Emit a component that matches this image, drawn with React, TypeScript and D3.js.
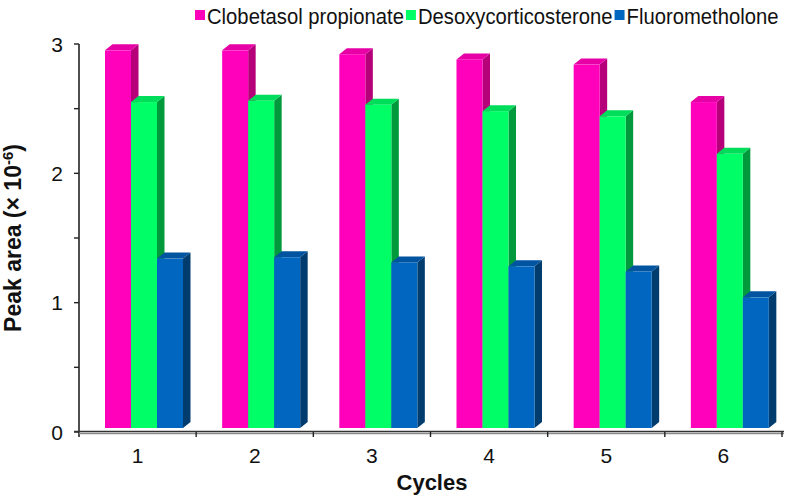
import { useEffect, useRef } from "react";
import * as d3 from "d3";

// Chart data
const CYCLES = ["1", "2", "3", "4", "5", "6"];
const SERIES = ["Clobetasol propionate", "Desoxycorticosterone", "Fluorometholone"];
const CLOBETASOL = [2.92, 2.92, 2.89, 2.85, 2.81, 2.52];
const DESOXY = [2.52, 2.53, 2.5, 2.45, 2.41, 2.12];
const FLUORO = [1.31, 1.32, 1.28, 1.25, 1.21, 1.01];
const Y_TICKS = [0, 1, 2, 3];
const Y_MINOR = [0.5, 1.5, 2.5];

const VALUES = [CLOBETASOL, DESOXY, FLUORO];

const COLORS = {
  front: ["#ff00bb", "#00ff66", "#0066bf"],
  top: ["#e600a6", "#00dd5a", "#0054a0"],
  side: ["#b5007a", "#009a3c", "#003c6e"],
  axis: "#222222",
  text: "#111111",
};

const W = 791;
const H = 499;
const FONT = "'Liberation Sans', Arial, sans-serif";
const DX = 7.5;
const DY = 6;
const LIFT = 4;

export default function App() {
  const svgRef = useRef<SVGSVGElement>(null);

  useEffect(() => {
    document.body.style.margin = "0";
    if (!svgRef.current) return;
    const svg = d3.select(svgRef.current);
    svg.selectAll("*").remove();

    const x = d3.scaleBand().domain(CYCLES).range([79, 782]).padding(0);
    const xInner = d3.scaleBand().domain(SERIES).range([26, 104]).padding(0);
    const y = d3.scaleLinear().domain([0, 3]).range([432, 44]);

    // ============ BARS ============
    const bars = svg.append("g").attr("class", "bars");
    CYCLES.forEach((c, ci) => {
      SERIES.forEach((s, si) => {
        const v = VALUES[si][ci];
        const x0 = (x(c) ?? 0) + (xInner(s) ?? 0);
        const w = xInner.bandwidth();
        const top = y(v) - LIFT;
        const bottom = y(0) - LIFT;
        const g = bars.append("g");
        g.append("polygon")
          .attr("points", [
            [x0 + w, top], [x0 + w + DX, top - DY],
            [x0 + w + DX, bottom - DY], [x0 + w, bottom],
          ].map((p) => p.join(",")).join(" "))
          .attr("fill", COLORS.side[si]);
        g.append("polygon")
          .attr("points", [
            [x0, top], [x0 + DX, top - DY],
            [x0 + w + DX, top - DY], [x0 + w, top],
          ].map((p) => p.join(",")).join(" "))
          .attr("fill", COLORS.top[si]);
        g.append("rect")
          .attr("x", x0)
          .attr("y", top)
          .attr("width", w)
          .attr("height", bottom - top)
          .attr("fill", COLORS.front[si]);
      });
    });

    // ============ AXES ============
    const axes = svg.append("g").attr("class", "axes");

    // Y axis
    axes.append("line")
      .attr("x1", 79).attr("x2", 79)
      .attr("y1", y(3)).attr("y2", y(0) + 5)
      .attr("stroke", COLORS.axis).attr("stroke-width", 1.6);
    axes.selectAll("line.ytick")
      .data([...Y_TICKS, ...Y_MINOR])
      .join("line")
      .attr("class", "ytick")
      .attr("x1", 74).attr("x2", 79)
      .attr("y1", (d) => y(d)).attr("y2", (d) => y(d))
      .attr("stroke", COLORS.axis).attr("stroke-width", 1.4);
    axes.selectAll("text.ylab")
      .data(Y_TICKS)
      .join("text")
      .attr("class", "ylab")
      .attr("x", 63)
      .attr("y", (d) => y(d))
      .attr("dy", "0.36em")
      .attr("text-anchor", "end")
      .attr("font-family", FONT)
      .attr("font-size", 21)
      .attr("fill", COLORS.text)
      .text((d) => String(d));

    // X axis
    axes.append("line")
      .attr("x1", 74).attr("x2", 784)
      .attr("y1", 431.5).attr("y2", 431.5)
      .attr("stroke", "#333").attr("stroke-width", 1.6);
    axes.append("line")
      .attr("x1", 79).attr("x2", 784)
      .attr("y1", 433.5).attr("y2", 433.5)
      .attr("stroke", "#8a8a8a").attr("stroke-width", 1.4);
    axes.selectAll("line.xtick")
      .data(CYCLES)
      .join("line")
      .attr("class", "xtick")
      .attr("x1", (d) => (x(d) ?? 0) + x.bandwidth())
      .attr("x2", (d) => (x(d) ?? 0) + x.bandwidth())
      .attr("y1", 432).attr("y2", 437)
      .attr("stroke", COLORS.axis).attr("stroke-width", 1.4);
    axes.selectAll("text.xlab")
      .data(CYCLES)
      .join("text")
      .attr("class", "xlab")
      .attr("x", (d) => (x(d) ?? 0) + x.bandwidth() / 2)
      .attr("y", 463)
      .attr("text-anchor", "middle")
      .attr("font-family", FONT)
      .attr("font-size", 21)
      .attr("fill", COLORS.text)
      .text((d) => d);

    // Axis titles
    axes.append("text")
      .attr("x", 432)
      .attr("y", 490)
      .attr("text-anchor", "middle")
      .attr("font-family", FONT)
      .attr("font-size", 22)
      .attr("font-weight", "bold")
      .attr("fill", COLORS.text)
      .text("Cycles");

    const yTitle = axes.append("text")
      .attr("transform", "translate(21,238) rotate(-90)")
      .attr("text-anchor", "middle")
      .attr("font-family", FONT)
      .attr("font-size", 23)
      .attr("font-weight", "bold")
      .attr("fill", COLORS.text);
    yTitle.append("tspan").text("Peak area (× 10");
    yTitle.append("tspan").attr("font-size", 15).attr("dy", -8).text("-6");
    yTitle.append("tspan").attr("dy", 8).text(")");

    // ============ LEGEND ============
    // Slightly condensed text, as in the reference
    const legend = svg.append("g").attr("class", "legend");
    let lx = 195;
    SERIES.forEach((s, si) => {
      legend.append("rect")
        .attr("x", lx)
        .attr("y", 10)
        .attr("width", 10)
        .attr("height", 10)
        .attr("fill", COLORS.front[si]);
      const t = legend.append("text")
        .attr("x", lx + 12)
        .attr("y", 24)
        .attr("font-family", FONT)
        .attr("font-size", 22)
        .attr("fill", COLORS.text)
        .text(s);
      const len = (t.node() as SVGTextElement).getComputedTextLength() * 0.92;
      t.attr("textLength", len).attr("lengthAdjust", "spacingAndGlyphs");
      lx += 12 + len + 2;
    });
  }, []);

  return <svg ref={svgRef} width={W} height={H} style={{ display: "block", background: "#fff" }} />;
}
